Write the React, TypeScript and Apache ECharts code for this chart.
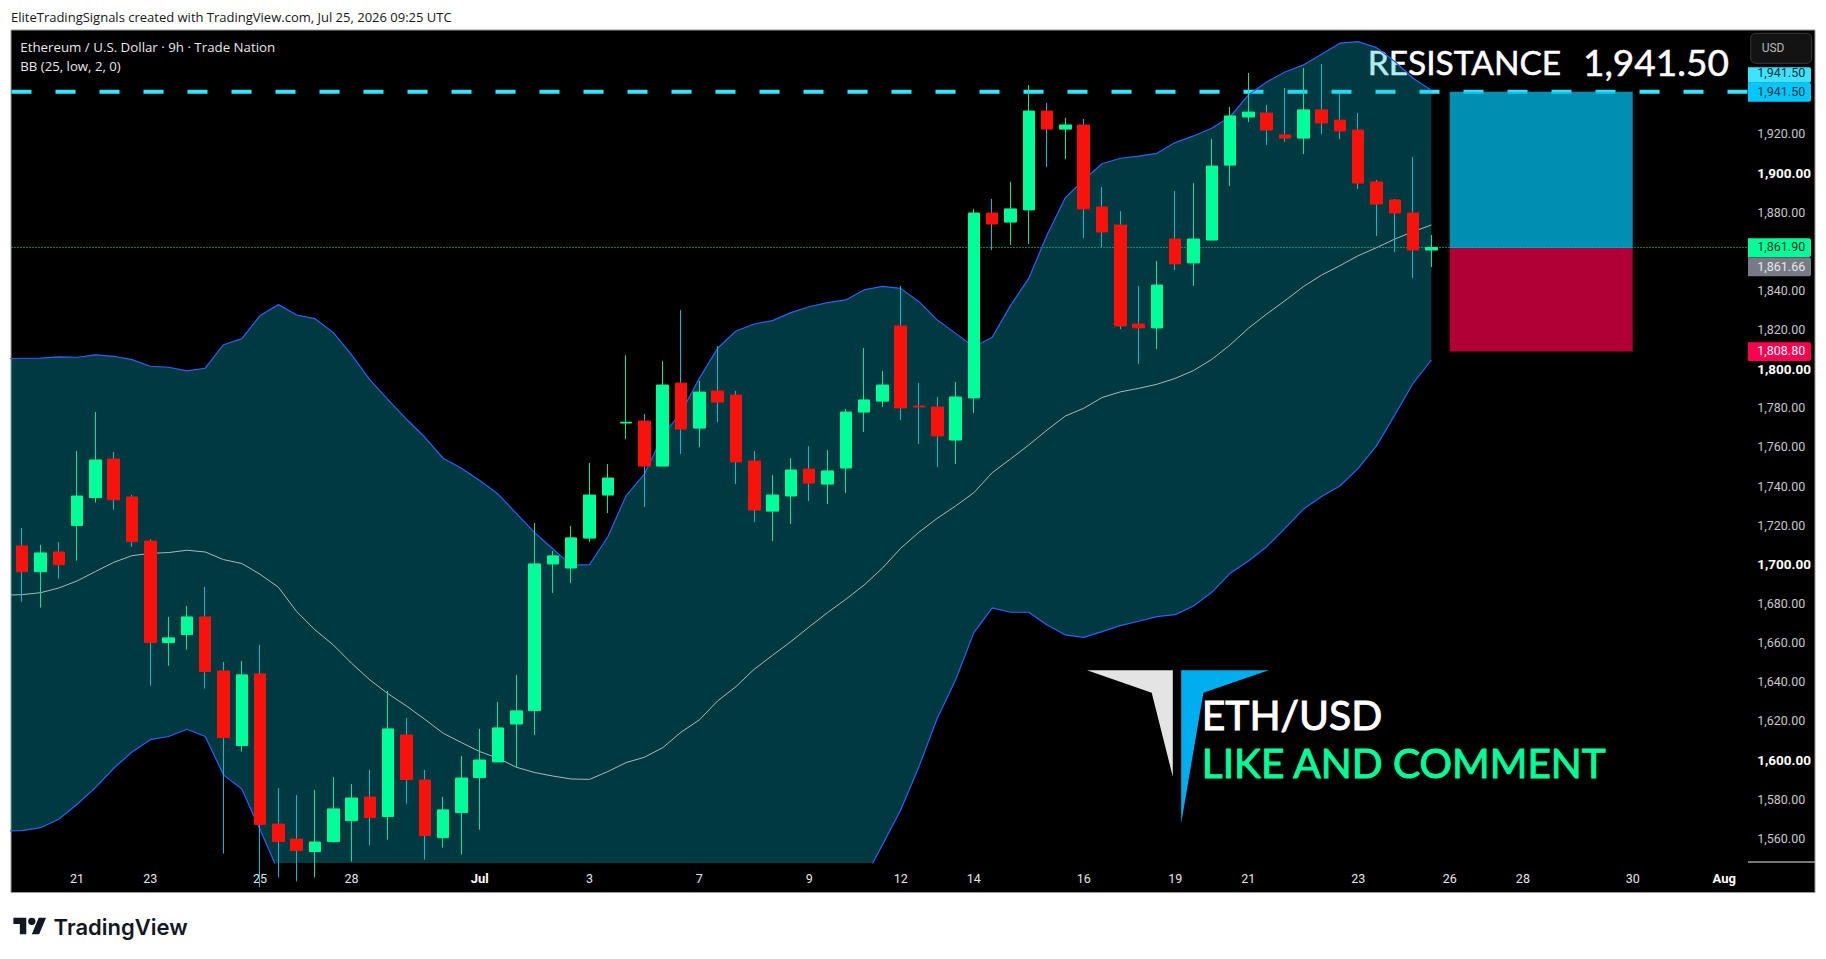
import React, { useEffect, useRef } from "react";
import * as echarts from "echarts";

// open, close, low, high per 9h candle (index 0 = first candle)
const ohlc: number[][] = [
  [1709.4,1696.2,1680.9,1718.6],[1696.2,1705.8,1677.9,1709.9],[1706.3,1699.8,1692.7,1711.4],[1719.8,1734.9,1701.9,1757.9],
  [1734.1,1753.3,1731.5,1777.8],[1753.8,1733.0,1727.9,1757.4],[1734.4,1711.6,1709.0,1735.4],[1711.9,1660.0,1638.0,1712.9],
  [1660.0,1662.4,1648.2,1673.1],[1664.1,1673.1,1656.4,1678.7],[1673.1,1645.2,1636.5,1688.4],[1645.5,1611.4,1552.2,1650.1],
  [1607.4,1643.5,1604.3,1650.6],[1644.0,1567.0,1535.0,1658.8],[1567.3,1558.3,1540.0,1585.7],[1559.6,1553.7,1538.0,1582.1],
  [1553.2,1558.1,1540.0,1584.7],[1558.3,1575.0,1557.8,1591.3],[1569.0,1580.6,1548.1,1587.8],[1581.1,1570.6,1556.3,1594.9],
  [1571.1,1615.9,1559.3,1635.3],[1612.8,1590.0,1577.7,1621.5],[1589.8,1561.4,1549.1,1594.9],[1560.3,1574.5,1555.2,1581.1],
  [1573.1,1590.8,1551.7,1602.1],[1591.0,1600.0,1564.4,1615.9],[1599.0,1616.4,1599.0,1629.7],[1618.4,1625.1,1596.1,1643.5],
  [1625.2,1700.2,1612.8,1721.1],[1700.2,1704.3,1685.4,1706.8],[1698.1,1713.5,1690.5,1719.6],[1713.4,1735.4,1711.4,1751.8],
  [1735.4,1744.1,1726.2,1751.2],[1772.2,1772.6,1764.0,1806.9],[1773.2,1750.2,1729.3,1776.8],[1750.2,1791.6,1750.2,1803.9],
  [1792.6,1769.1,1756.4,1829.9],[1769.6,1788.0,1759.9,1793.7],[1788.6,1782.9,1772.7,1811.5],[1786.5,1752.3,1741.0,1788.6],
  [1752.8,1727.7,1721.6,1757.9],[1727.2,1735.4,1711.9,1745.6],[1734.9,1748.2,1720.6,1754.3],[1748.7,1741.5,1732.3,1760.4],
  [1741.0,1747.7,1730.8,1758.4],[1749.2,1777.8,1736.4,1779.4],[1777.8,1784.0,1767.6,1810.5],[1783.4,1791.6,1780.4,1798.8],
  [1821.8,1779.9,1773.7,1842.2],[1780.9,1780.4,1761.5,1792.6],[1780.4,1765.6,1749.7,1785.5],[1763.5,1785.5,1751.2,1793.1],
  [1785.0,1879.5,1777.3,1881.6],[1879.5,1873.9,1860.6,1886.7],[1874.9,1881.6,1863.2,1895.4],[1881.1,1931.6,1863.7,1944.9],
  [1931.6,1922.4,1903.0,1935.7],[1922.4,1924.5,1907.1,1928.1],[1924.5,1881.6,1866.7,1927.6],[1882.6,1869.8,1862.1,1892.8],
  [1873.4,1821.8,1820.2,1880.5],[1822.8,1820.8,1802.4,1842.2],[1820.8,1842.7,1810.0,1855.0],[1866.2,1853.5,1850.4,1890.8],
  [1854.0,1866.2,1842.2,1894.8],[1865.7,1903.5,1865.7,1917.3],[1904.0,1929.1,1893.3,1933.7],[1928.6,1931.1,1926.0,1951.1],
  [1930.6,1921.9,1914.3,1934.7],[1919.4,1917.8,1915.8,1943.4],[1917.8,1932.2,1909.7,1953.6],[1932.2,1925.5,1919.9,1955.7],
  [1927.0,1921.4,1917.3,1940.8],[1921.9,1894.8,1891.8,1930.6],[1895.4,1884.1,1867.8,1896.4],[1886.2,1879.5,1859.6,1886.7],
  [1879.5,1860.6,1846.3,1908.1],[1860.6,1861.9,1851.9,1868.3],
];

// Bollinger bands: first value belongs to the candle just off the left edge (index -1)
const bandUpper: number[] = [
  1805.1,1805.3,1805.4,1806.0,1805.8,1807.0,1806.3,1804.6,1801.2,1800.7,1798.8,1800.2,1812.2,1815.3,1827.1,1832.7,
  1827.4,1825.5,1818.4,1807.0,1794.2,1784.0,1774.1,1764.9,1754.2,1749.1,1742.8,1735.9,1726.0,1716.2,1707.8,1699.6,
  1699.8,1714.1,1735.1,1746.1,1765.7,1777.6,1795.0,1810.4,1819.2,1822.8,1824.5,1828.6,1831.6,1833.7,1835.1,1840.2,
  1842.0,1841.0,1834.2,1824.8,1818.0,1811.2,1816.0,1832.2,1846.1,1868.3,1887.4,1896.4,1904.7,1907.5,1908.6,1910.0,
  1915.5,1918.9,1922.8,1928.7,1939.8,1946.5,1951.6,1955.1,1960.6,1966.3,1967.1,1964.0,1956.9,1948.4,1942.2,
];
const bandLower: number[] = [
  1563.8,1563.9,1565.4,1569.7,1577.4,1585.9,1595.8,1604.1,1610.4,1612.0,1615.7,1612.0,1592.4,1585.2,1564.3,1543.0,
  1522,1510,1499,1489,1481,1475,1470,1466,1463,1461,1460,1460,1461,1463,1466,1469,
  1472,1474,1477,1480,1483,1487,1491,1496,1501,1506,1511,1517,1523,1528,1533,1539,
  1556.6,1574.5,1596.6,1621.3,1640.9,1665.1,1677.7,1675.5,1675.5,1669.0,1663.9,1662.7,1665.6,1668.7,1670.9,1673.3,
  1674.3,1678.7,1685.7,1695.4,1701.7,1709.0,1718.4,1728.1,1734.6,1740.0,1749.0,1760.5,1776.3,1792.5,1804.4,
];
const bandBasis: number[] = [
  1684.2,1684.5,1685.5,1687.9,1691.5,1696.3,1701.0,1704.4,1705.6,1706.0,1707.2,1706.3,1702.4,1700.4,1694.9,1688.3,
  1675.8,1666.5,1658.8,1649.4,1640.9,1633.8,1627.6,1620.8,1613.7,1608.9,1604.3,1600.9,1596.3,1593.6,1591.8,1590.3,
  1590.1,1594.1,1598.7,1601.4,1606.3,1614.2,1620.5,1630.2,1637.5,1646.4,1653.5,1660.5,1668.0,1675.3,1682.1,1689.4,
  1698.0,1708.2,1716.4,1723.5,1729.8,1736.6,1746.8,1753.8,1761.0,1768.6,1775.8,1779.7,1785.2,1788.1,1789.9,1792.0,
  1795.0,1799.0,1804.7,1812.1,1820.6,1827.9,1834.7,1841.9,1847.8,1852.6,1857.7,1861.8,1866.2,1870.0,1873.4,
];

const xTickIndex = [3, 7, 13, 18, 25, 31, 37, 43, 48, 52, 58, 63, 67, 73, 78, 82, 88, 93];
const xTickLabel = ["21", "23", "25", "28", "Jul", "3", "7", "9", "12", "14", "16", "19", "21", "23", "26", "28", "30", "Aug"];
const yTicks = [1560, 1580, 1600, 1620, 1640, 1660, 1680, 1700, 1720, 1740, 1760, 1780, 1800, 1820, 1840, 1880, 1900, 1920];

const resistance = 1941.5;
const lastPrice = 1861.9;
const entryPrice = 1861.66;
const stopPrice = 1808.8;
const boxStart = 78;
const boxEnd = 88;

const X_MIN = -0.585;
const X_MAX = 94.3;
const Y_MIN = 1547.37;
const Y_MAX = 1973.03;

const UI_FONT = "'Open Sans', sans-serif";
const AXIS_FONT = "Roboto, sans-serif";
const GREEN = "#00ff99";
const RED = "#f8120c";

const fmt = (v: number) => v.toLocaleString("en-US", { minimumFractionDigits: 2, maximumFractionDigits: 2 });

const bandX = (i: number) => i - 1;

function tag(y0: number, y1: number, fill: string, text: string, color: string, ty: number) {
  return [
    { type: "rect", z: 10, shape: { x: 1748, y: y0, width: 63, height: y1 - y0, r: [0, 2, 2, 0] }, style: { fill } },
    { type: "text", z: 11, x: 1757.3, y: ty, style: { text, fill: color, font: `12.5px ${AXIS_FONT}`, verticalAlign: "middle" } },
  ];
}

echarts.graphic.registerShape(
  "tvLogo",
  echarts.graphic.extendPath("M14 22H7V11H0V4h14v18ZM28 22h-8l7.5-18h8L28 22ZM24 8a4 4 0 1 1-8 0a4 4 0 1 1 8 0Z", {}) as any
);

export default function App() {
  const ref = useRef<HTMLDivElement>(null);
  useEffect(() => {
    const chart = echarts.init(ref.current!, undefined, { renderer: "svg" });
    const wickData = ohlc.map((d, i) => [i, d[0], d[1], d[2], d[3]]);
    const bodyData = ohlc.map((d, i) => [i, d[0], d[1], Math.min(d[0], d[1]), Math.max(d[0], d[1])]);
    const option: any = {
      animation: false,
      backgroundColor: "#ffffff",
      grid: { left: 11.5, top: 30, width: 1736.5, height: 833, containLabel: false },
      xAxis: {
        type: "value",
        min: X_MIN,
        max: X_MAX,
        axisLine: { show: false },
        axisTick: { show: false },
        splitLine: { show: false },
        axisLabel: {
          customValues: xTickIndex,
          margin: 9,
          fontFamily: AXIS_FONT,
          fontSize: 12.5,
          color: "#e6e6e6",
          formatter: (v: number) => {
            const s = xTickLabel[xTickIndex.indexOf(v)];
            return s === "Jul" || s === "Aug" ? `{b|${s}}` : s;
          },
          rich: { b: { fontFamily: AXIS_FONT, fontSize: 13, fontWeight: "bold", color: "#ffffff" } },
        },
      },
      yAxis: {
        type: "value",
        position: "right",
        min: Y_MIN,
        max: Y_MAX,
        axisLine: { show: false },
        axisTick: { show: false },
        splitLine: { show: false },
        axisLabel: {
          customValues: yTicks,
          margin: 9.3,
          fontFamily: AXIS_FONT,
          fontSize: 12.5,
          color: "#c8c8c8",
          formatter: (v: number) => (v % 100 === 0 ? `{b|${fmt(v)}}` : fmt(v)),
          rich: { b: { fontFamily: AXIS_FONT, fontSize: 13.5, fontWeight: "bold", color: "#ffffff" } },
        },
      },
      series: [
        {
          name: "Last price",
          type: "line",
          z: 1,
          silent: true,
          showSymbol: false,
          data: [[X_MIN, lastPrice], [X_MAX, lastPrice]],
          lineStyle: { color: GREEN, width: 1, type: [1, 2] },
        },
        {
          name: "Resistance",
          type: "line",
          z: 1,
          silent: true,
          showSymbol: false,
          data: [[X_MIN, resistance], [X_MAX, resistance]],
          lineStyle: { color: "#33e5ff", width: 4, type: [20, 24] },
          markArea: {
            silent: true,
            z: 2,
            data: [
              [{ coord: [boxStart, resistance], itemStyle: { color: "rgba(0,188,235,0.76)" } }, { coord: [boxEnd, entryPrice] }],
              [{ coord: [boxStart, entryPrice], itemStyle: { color: "rgba(232,0,70,0.76)" } }, { coord: [boxEnd, stopPrice] }],
            ],
          },
        },
        {
          name: "BB fill",
          type: "custom",
          z: 2,
          silent: true,
          clip: true,
          data: [[0, bandBasis[0]]],
          encode: { x: 0, y: 1 },
          renderItem: (_p: any, api: any) => ({
            type: "polygon",
            shape: {
              points: [
                ...bandUpper.map((v, i) => api.coord([bandX(i), v])),
                ...bandLower.map((v, i) => api.coord([bandX(i), v])).reverse(),
              ],
            },
            style: { fill: "rgba(0,188,212,0.3)" },
          }),
        },
        {
          name: "BB lower",
          type: "line",
          z: 2,
          showSymbol: false,
          silent: true,
          data: bandLower.map((v, i) => [bandX(i), v]),
          lineStyle: { color: "#2962ff", width: 1.2 },
        },
        {
          name: "BB upper",
          type: "line",
          z: 2,
          showSymbol: false,
          silent: true,
          data: bandUpper.map((v, i) => [bandX(i), v]),
          lineStyle: { color: "#2962ff", width: 1.2 },
        },
        {
          name: "BB basis",
          type: "line",
          z: 2,
          showSymbol: false,
          silent: true,
          data: bandBasis.map((v, i) => [bandX(i), v]),
          lineStyle: { color: "#b2b5be", width: 1 },
        },
        {
          name: "Wicks",
          type: "candlestick",
          z: 3,
          silent: true,
          barWidth: 1,
          data: wickData,
          encode: { x: 0, y: [1, 2, 3, 4] },
          itemStyle: { color: "#00e6a0", color0: "#00bcd4", borderColor: "#00e6a0", borderColor0: "#00bcd4", borderWidth: 1 },
        },
        {
          name: "ETH/USD",
          type: "candlestick",
          z: 4,
          silent: true,
          barWidth: 12,
          data: bodyData,
          encode: { x: 0, y: [1, 2, 3, 4] },
          itemStyle: { color: GREEN, color0: RED, borderColor: GREEN, borderColor0: RED, borderWidth: 1 },
        },
      ],
      graphic: [
        { type: "rect", z: -2, shape: { x: 11, y: 30, width: 1804, height: 862.5 }, style: { fill: "#000000", stroke: "#9a9a9a", lineWidth: 1 } },
        { type: "line", z: 1, shape: { x1: 1748, y1: 862, x2: 1815, y2: 862 }, style: { stroke: "#eeeeee", lineWidth: 1 } },
        { type: "text", x: 11, y: 16.7, style: { text: "EliteTradingSignals created with TradingView.com, Jul 25, 2026 09:25 UTC", fill: "#131722", font: `13px ${UI_FONT}`, verticalAlign: "middle" } },
        { type: "text", z: 10, x: 20.3, y: 46.7, style: { text: "Ethereum / U.S. Dollar · 9h · Trade Nation", fill: "#e8e8e8", font: `13.3px ${UI_FONT}`, verticalAlign: "middle" } },
        { type: "text", z: 10, x: 20.3, y: 65.7, style: { text: "BB (25, low, 2, 0)", fill: "#e8e8e8", font: `13.2px ${UI_FONT}`, verticalAlign: "middle" } },
        { type: "text", z: 0, x: 1367.7, y: 61.5, style: { text: "RESISTANCE", fill: "#ffffff", stroke: "#ffffff", lineWidth: 0.5, font: `33.5px Lato, sans-serif`, verticalAlign: "middle" } },
        { type: "text", z: 0, x: 1583, y: 61.5, style: { text: "1,941.50", fill: "#ffffff", stroke: "#ffffff", lineWidth: 0.5, font: `37px Lato, sans-serif`, verticalAlign: "middle" } },
        { type: "polygon", z: 10, shape: { points: [[1087, 670.3], [1172.8, 670.3], [1172.8, 776.7], [1151.7, 692.7]] }, style: { fill: "#e4e4e4" } },
        { type: "polygon", z: 10, shape: { points: [[1181.2, 670.3], [1268.7, 670.3], [1203.4, 692.7], [1181.2, 823.3]] }, style: { fill: "#00aeef" } },
        { type: "text", z: 10, x: 1201.8, y: 714.5, style: { text: "ETH/USD", fill: "#ffffff", stroke: "#ffffff", lineWidth: 1, font: `40.8px Lato, sans-serif`, verticalAlign: "middle" } },
        { type: "text", z: 10, x: 1201.8, y: 762, style: { text: "LIKE AND COMMENT", fill: GREEN, stroke: GREEN, lineWidth: 1, font: `40.6px Lato, sans-serif`, verticalAlign: "middle" } },
        { type: "rect", z: 10, shape: { x: 1750.7, y: 33.3, width: 61, height: 30, r: 5 }, style: { fill: "#131313", stroke: "#3a3a3a", lineWidth: 1 } },
        { type: "text", z: 11, x: 1761.7, y: 48.3, style: { text: "USD", fill: "#b8b8b8", font: `12px ${AXIS_FONT}`, verticalAlign: "middle" } },
        ...tag(67.3, 82.7, "#3fe3ff", fmt(resistance), "#06303c", 72.7),
        ...tag(82.7, 101.7, "#00c8ff", fmt(resistance), "#06303c", 91.7),
        ...tag(238.3, 257, GREEN, fmt(lastPrice), "#06302a", 246.7),
        ...tag(257.3, 276.3, "#787b86", fmt(entryPrice), "#e6e6e6", 266),
        ...tag(342.3, 361, "#ff0050", fmt(stopPrice), "#ffffff", 350.7),
        { type: "tvLogo", x: 13.4, y: 914, scaleX: 0.92, scaleY: 0.92, style: { fill: "#131722" } },
        { type: "text", x: 53.6, y: 927, style: { text: "TradingView", fill: "#131722", font: `600 22px Inter, Roboto, sans-serif`, verticalAlign: "middle" } },
      ],
    };
    chart.setOption(option);
    return () => chart.dispose();
  }, []);
  return <div ref={ref} style={{ position: "absolute", left: 0, top: 0, width: 1826, height: 959 }} />;
}
